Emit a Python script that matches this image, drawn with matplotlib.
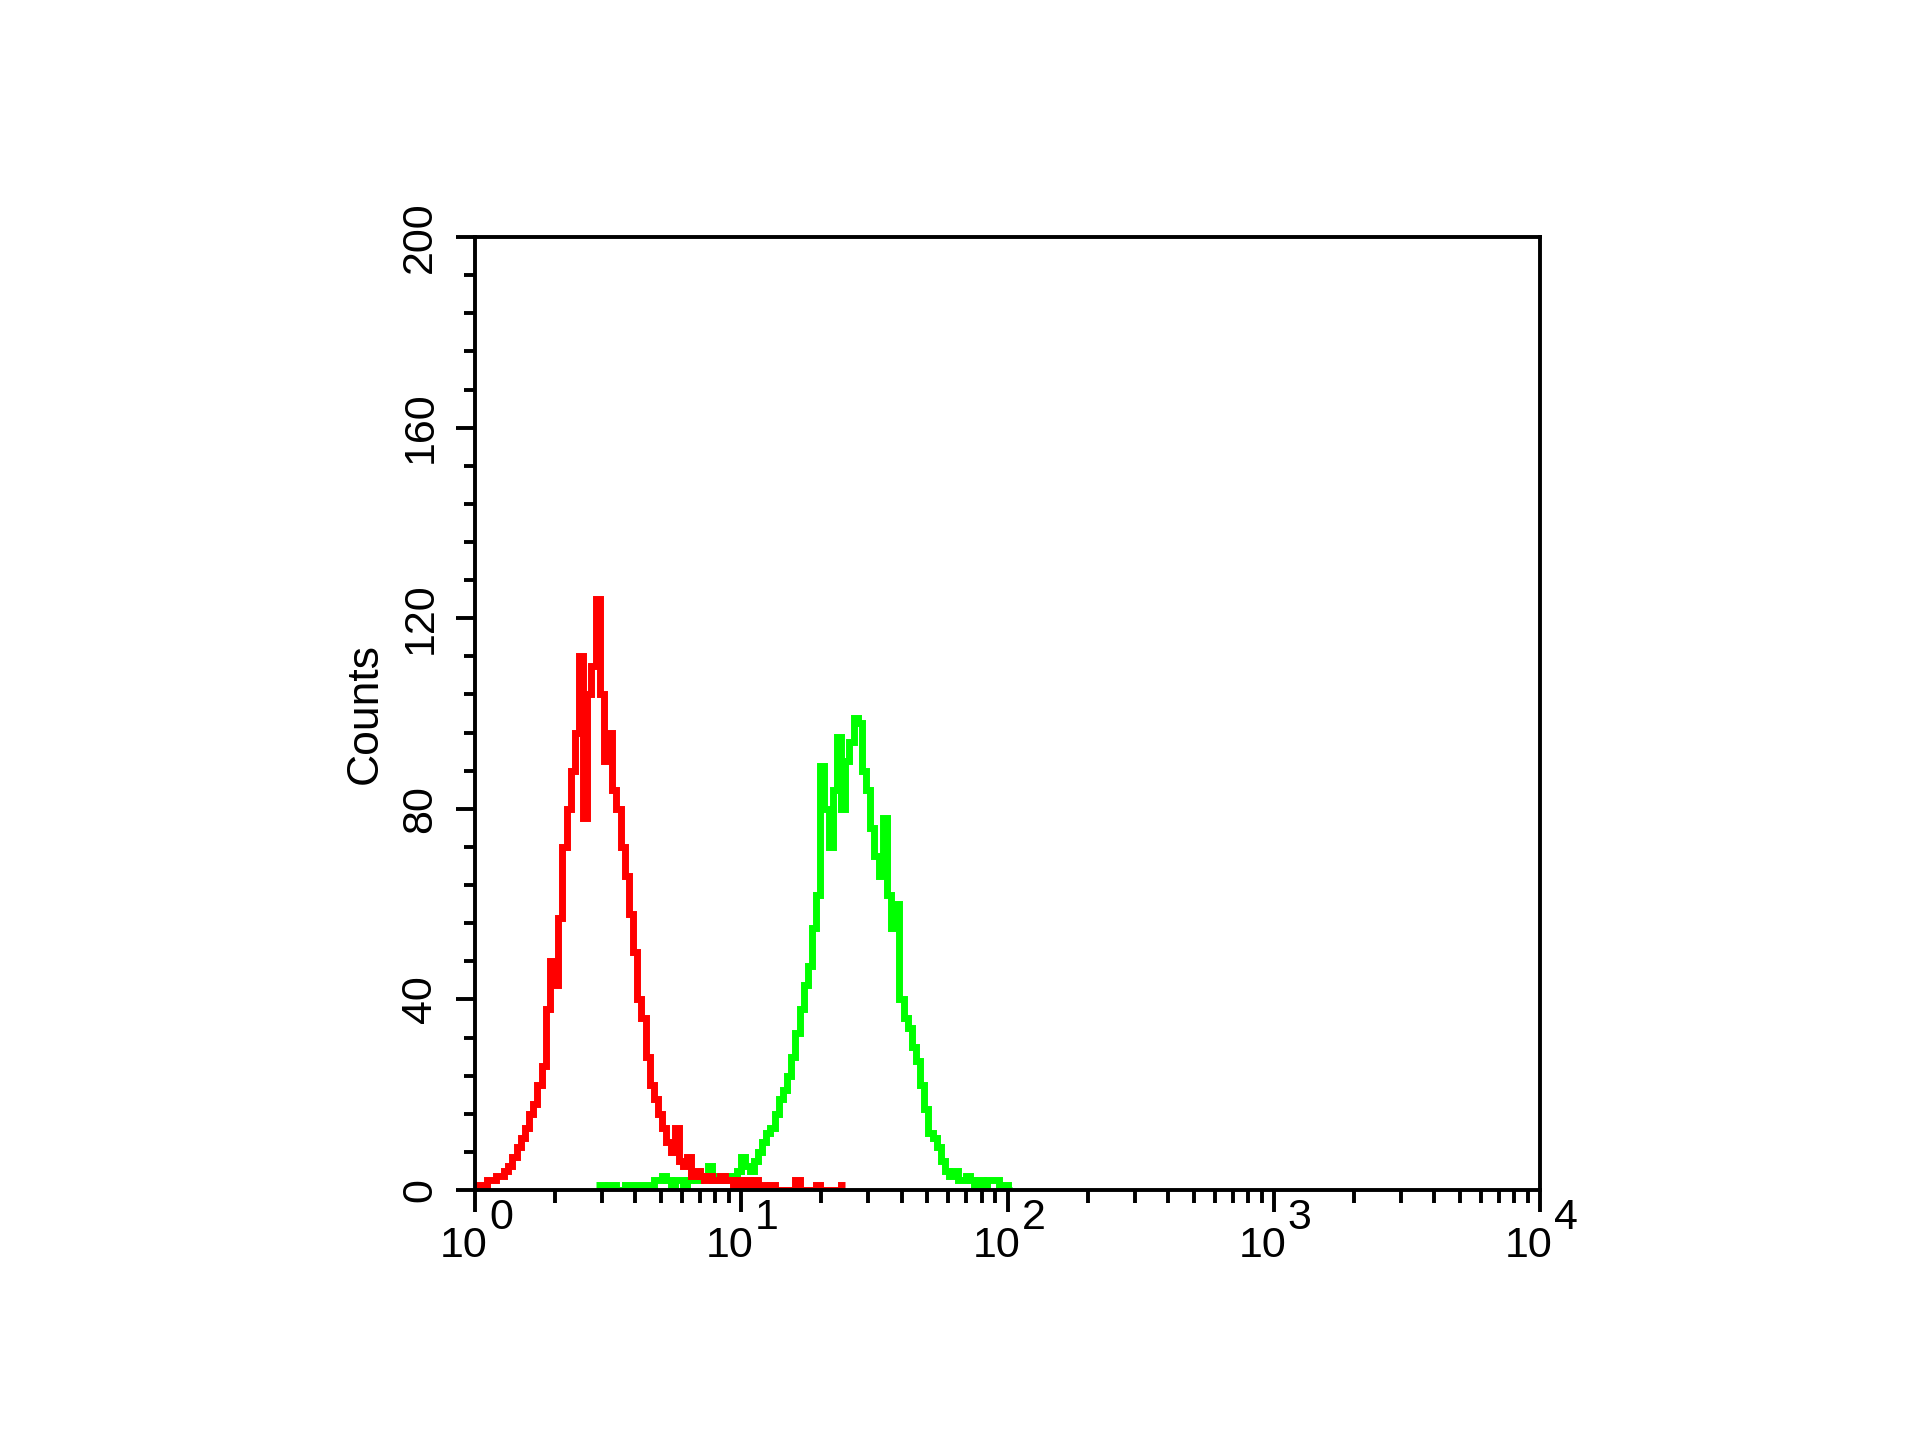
import matplotlib.pyplot as plt
import numpy as np
from matplotlib.ticker import MultipleLocator, LogLocator, NullFormatter

# DATA (histogram counts per channel, 256 log channels over 10^0..10^4)
n_channels = 256
red_first_channel = 0
red_counts = [1, 1, 1, 2, 2, 3, 3, 4, 5, 7, 9, 11, 13, 16, 18, 22, 26, 38, 48, 43,
              57, 72, 80, 88, 96, 112, 78, 104, 110, 124, 104, 90, 96, 84, 80, 72, 66, 58, 50, 40,
              36, 28, 22, 19, 16, 13, 10, 8, 13, 6, 5, 7, 3, 4, 3, 2, 3, 2, 2, 3,
              2, 2, 1, 2, 1, 2, 1, 2, 1, 1, 0, 1, 0, 0, 0, 0, 0, 2, 0, 0,
              0, 0, 1, 0, 0, 0, 0, 0, 1]
green_first_channel = 29
green_counts = [1, 1, 0, 1, 1, 0, 0, 1, 1, 1, 1, 1, 1, 1, 2, 2, 3, 2, 1, 2,
                2, 1, 2, 3, 2, 3, 3, 5, 2, 3, 2, 3, 3, 2, 4, 7, 5, 4, 6, 8,
                10, 12, 13, 16, 19, 21, 24, 28, 33, 38, 43, 47, 55, 62, 89, 80, 72, 84, 95, 80,
                90, 94, 99, 98, 88, 84, 76, 70, 66, 78, 62, 55, 60, 40, 36, 34, 30, 27, 22, 17,
                12, 11, 9, 6, 4, 3, 4, 2, 2, 3, 2, 1, 2, 1, 2, 2, 2, 1, 1, 0]
y_major = [0, 40, 80, 120, 160, 200]
x_decades = [0, 1, 2, 3, 4]

edges = np.logspace(0, 4, n_channels + 1)

fig = plt.figure(figsize=(19.2, 14.4), dpi=100)
ax = fig.add_axes([0.2474, 0.1736, 0.5547, 0.6618])
plt.rcParams['font.family'] = ['Liberation Sans', 'DejaVu Sans']

ax.stairs(green_counts, edges[green_first_channel:green_first_channel + len(green_counts) + 1],
          color='#00ff00', linewidth=5, baseline=None)
ax.stairs(red_counts, edges[red_first_channel:red_first_channel + len(red_counts) + 1],
          color='#ff0000', linewidth=5, baseline=None)

ax.set_xscale('log')
ax.set_xlim(1, 1e4)
ax.set_ylim(0, 200)

for s in ax.spines.values():
    s.set_linewidth(2.8)

# y axis
ax.set_yticks(y_major)
ax.yaxis.set_minor_locator(MultipleLocator(8))
ax.tick_params(axis='y', which='major', direction='out', length=14, width=2.8, pad=11)
ax.tick_params(axis='y', which='minor', direction='out', length=8, width=2.8)
ax.set_yticklabels([str(v) for v in y_major], fontsize=31, family='Liberation Sans')
for lab in ax.get_yticklabels():
    lab.set_rotation(90)
    lab.set_va('center')
ax.set_ylabel('Counts', fontsize=32, family='Liberation Sans')
ax.yaxis.set_label_coords(-0.084, 0.5)

# x axis: log ticks, labels drawn as "10" + same-size exponent
ax.xaxis.set_major_locator(LogLocator(base=10, numticks=10))
ax.xaxis.set_minor_locator(LogLocator(base=10, subs=np.arange(2, 10), numticks=20))
ax.xaxis.set_minor_formatter(NullFormatter())
ax.tick_params(axis='x', which='major', direction='out', length=16, width=2.8, labelbottom=False)
ax.tick_params(axis='x', which='minor', direction='out', length=9, width=2.8)
for d in x_decades:
    ax.annotate('10', xy=(10 ** d, 0), xycoords=('data', 'axes fraction'),
                xytext=(9, -26), textcoords='offset points', ha='right', va='top',
                fontsize=31, family='Liberation Sans', annotation_clip=False)
    ax.annotate(str(d), xy=(10 ** d, 0), xycoords=('data', 'axes fraction'),
                xytext=(10, -6), textcoords='offset points', ha='left', va='top',
                fontsize=31, family='Liberation Sans', annotation_clip=False)

plt.savefig('out.png', dpi=100)
